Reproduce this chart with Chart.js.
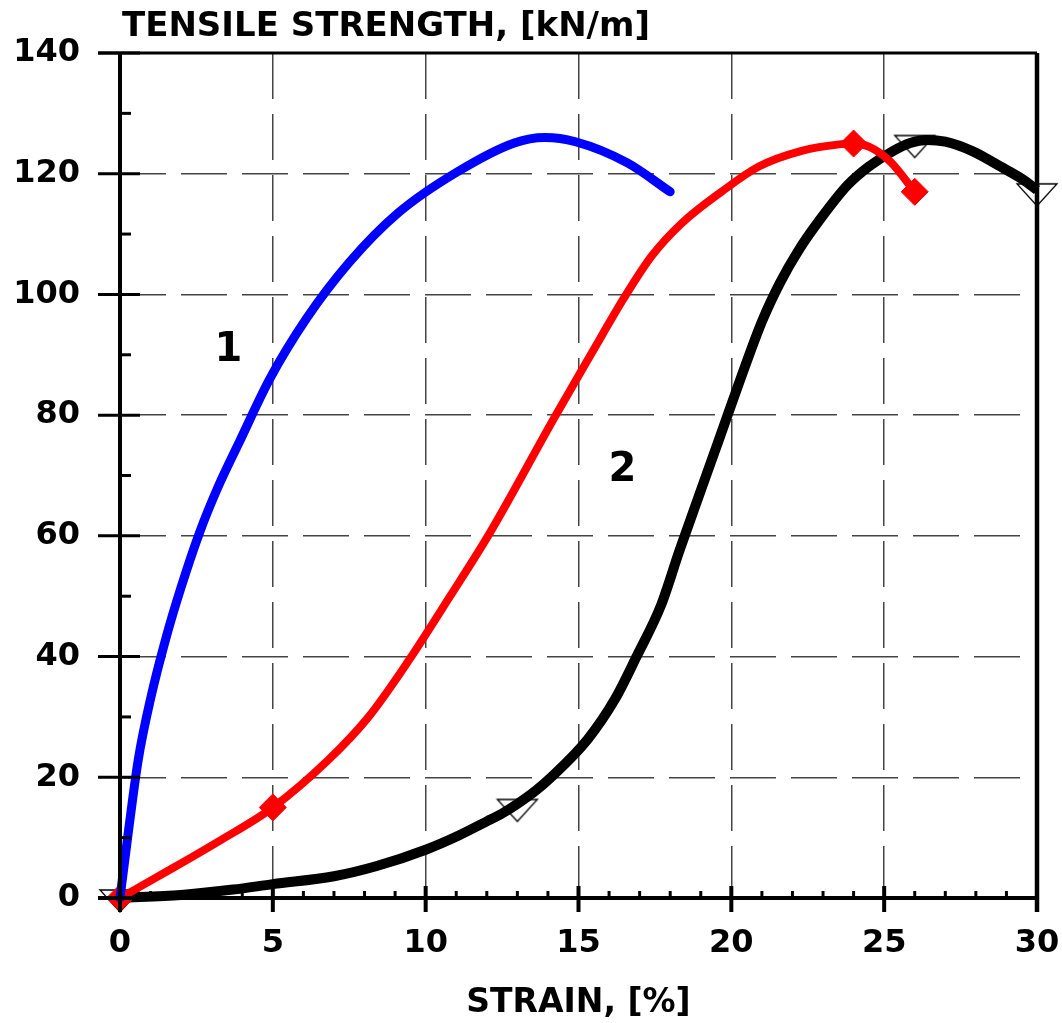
<!DOCTYPE html>
<html>
<head>
<meta charset="utf-8">
<script src="https://cdn.jsdelivr.net/npm/chart.js@4.4.1/dist/chart.umd.min.js"></script>
<style>
html, body { margin: 0; padding: 0; background: #fff; }
</style>
</head>
<body>
<canvas id="chart" width="1062" height="1023"></canvas>
<script>
// --- valeurs (déformation %, résistance kN/m) ---
const curve1X = [0, 0.3, 0.6, 1.0, 1.5, 2.0, 2.6, 3.2, 3.9, 4.9, 6.1, 7.5, 9.1, 11, 12.9, 13.9, 14.9, 16.6, 18];
const curve1Y = [0, 12, 23, 33, 43, 51.5, 60.5, 68, 75.5, 86, 96, 105.3, 113.5, 120.2, 125.1, 126, 125.3, 121.8, 117];

const curve2X = [0, 1.5, 3.2, 5, 6.8, 8.1, 9.4, 10.8, 12.1, 14.2, 15.4, 16.5, 17.4, 18.4, 19.7, 20.9, 22.3, 23.6, 24, 24.5, 25.2, 26];
const curve2Y = [0, 4.3, 9.3, 15, 22.8, 29.8, 39, 50, 60.5, 79.5, 90, 99.5, 106.4, 111.9, 117.1, 121.2, 123.8, 124.9, 125, 124.5, 122, 117];
const curve2MarkX = [0, 5, 24, 26];
const curve2MarkY = [0, 15, 125, 117];

const curve3X = [0, 2, 3.7, 5, 7, 8.4, 10, 11.1, 12, 12.5, 13, 13.6, 14.1, 15.3, 16.2, 16.9, 17.7, 18.3, 19.0, 19.6, 20.3, 21.0, 21.6, 22.2, 22.9, 23.8, 24.5, 25.3, 25.85, 26.4, 27, 27.9, 28.8, 29.55, 30];
const curve3Y = [0, 0.5, 1.4, 2.3, 3.6, 5.3, 8, 10.4, 12.7, 14, 15.6, 17.8, 20, 26.3, 33, 40, 48.5, 57.5, 67.5, 76, 86, 95.5, 102, 107.3, 112.4, 118.1, 121.2, 123.8, 125.1, 125.6, 125.3, 123.7, 121.2, 119, 117.3];
const curve3MarkX = [0, 13, 26, 30];
const curve3MarkY = [0, 15, 125, 117];

const xMin = 0, xMax = 30, xStep = 5;
const yMin = 0, yMax = 140, yStep = 20;

const chartTitle = 'TENSILE STRENGTH, [kN/m]';
const xTitle = 'STRAIN, [%]';
const curveNames = ['1', '2'];
const curveNameX = [3.55, 16.44];
const curveNameY = [91, 71.2];

const FONT = '"DejaVu Sans", sans-serif';

function toPoints(xs, ys) {
    return xs.map((v, i) => ({ x: v, y: ys[i] }));
}

// triangle creux aplati pointe en bas (marqueurs de la courbe noire)
function makeTriangle() {
    const c = document.createElement('canvas');
    c.width = 44; c.height = 32;
    const g = c.getContext('2d');
    g.strokeStyle = '#000';
    g.lineWidth = 1.3;
    g.beginPath();
    g.moveTo(2, 8); g.lineTo(42, 8); g.lineTo(22, 30); g.closePath();
    g.stroke();
    return c;
}

function seg(ctx, x1, y1, x2, y2) {
    ctx.beginPath(); ctx.moveTo(x1, y1); ctx.lineTo(x2, y2); ctx.stroke();
}

// on fixe la taille de l'axe et on annule le débord des étiquettes
function pinAxis(prop, size) {
    return function (s) {
        s[prop] = size;
        s.paddingTop = 0; s.paddingBottom = 0;
        s.paddingLeft = 0; s.paddingRight = 0;
    };
}

// axes, graduations et textes dessinés à la main
const decorPlugin = {
    id: 'decor',
    afterDatasetsDraw(chart) {
        const { ctx, chartArea: a, scales: { x, y } } = chart;
        ctx.save();
        ctx.strokeStyle = '#000';
        ctx.lineCap = 'butt';

        ctx.lineWidth = 3;
        seg(ctx, a.left - 22, a.top, a.right, a.top);
        ctx.lineWidth = 4.5;
        seg(ctx, a.right, a.top, a.right, a.bottom + 14);
        ctx.lineWidth = 4;
        seg(ctx, a.left, a.top, a.left, a.bottom + 14);
        seg(ctx, a.left - 22, a.bottom, a.right, a.bottom);

        // graduations Y
        ctx.lineWidth = 3;
        for (let v = yMin; v <= yMax; v += yStep) {
            const py = y.getPixelForValue(v);
            seg(ctx, a.left - 22, py, a.left + 20, py);
        }
        for (let v = yMin + yStep / 2; v < yMax; v += yStep) {
            const py = y.getPixelForValue(v);
            seg(ctx, a.left, py, a.left + 11, py);
        }
        // graduations X
        for (let v = xMin; v <= xMax; v += 1) {
            const px = x.getPixelForValue(v);
            if (v % xStep === 0) {
                ctx.lineWidth = 4;
                seg(ctx, px, a.bottom - 12, px, a.bottom + 14);
            } else {
                ctx.lineWidth = 3;
                seg(ctx, px, a.bottom - 7, px, a.bottom);
            }
        }

        ctx.fillStyle = '#000';
        ctx.textBaseline = 'middle';
        ctx.textAlign = 'left';
        ctx.font = 'bold 34px ' + FONT;
        ctx.fillText(chartTitle, a.left + 2, 27);

        ctx.textAlign = 'center';
        ctx.font = 'bold 33px ' + FONT;
        ctx.fillText(xTitle, (a.left + a.right) / 2, 1003);

        ctx.font = 'bold 40px ' + FONT;
        curveNames.forEach((t, i) => {
            ctx.fillText(t, x.getPixelForValue(curveNameX[i]), y.getPixelForValue(curveNameY[i]) + 2);
        });
        ctx.restore();
    }
};

const tickFont = { family: FONT, size: 32, weight: 'bold' };

new Chart(document.getElementById('chart'), {
    type: 'line',
    data: {
        datasets: [
            { data: toPoints(curve1X, curve1Y), borderColor: '#0000ff', borderWidth: 9, cubicInterpolationMode: 'monotone', pointRadius: 0, clip: false, borderCapStyle: 'round', order: 1 },
            { data: toPoints(curve2MarkX, curve2MarkY), showLine: false, pointStyle: 'rectRot', pointRadius: 13.5, pointBackgroundColor: '#ff0000', pointBorderColor: '#ff0000', pointBorderWidth: 1, clip: false, order: 2 },
            { data: toPoints(curve2X, curve2Y), borderColor: '#ff0000', borderWidth: 8, cubicInterpolationMode: 'monotone', pointRadius: 0, clip: false, order: 3 },
            { data: toPoints(curve3X, curve3Y), borderColor: '#000000', borderWidth: 10, cubicInterpolationMode: 'monotone', pointRadius: 0, clip: false, order: 4 },
            { data: toPoints(curve3MarkX, curve3MarkY), showLine: false, pointStyle: makeTriangle(), pointRadius: 10, clip: false, order: 5 }
        ]
    },
    options: {
        responsive: false,
        animation: false,
        layout: { padding: { top: 53, right: 25, left: 0, bottom: 0 } },
        plugins: { legend: { display: false }, tooltip: { enabled: false }, title: { display: false } },
        scales: {
            x: {
                type: 'linear', min: xMin, max: xMax,
                ticks: { stepSize: xStep, padding: 26, color: '#000', font: tickFont, maxRotation: 0 },
                grid: { color: '#444', lineWidth: 1.5, drawTicks: false },
                border: { display: false, dash: [46, 15] },
                afterFit: pinAxis('height', 125)
            },
            y: {
                type: 'linear', min: yMin, max: yMax,
                ticks: { stepSize: yStep, padding: 40, color: '#000', font: tickFont },
                grid: { color: '#444', lineWidth: 1.5, drawTicks: false },
                border: { display: false, dash: [46, 15] },
                afterFit: pinAxis('width', 120)
            }
        }
    },
    plugins: [decorPlugin]
});
</script>
</body>
</html>
